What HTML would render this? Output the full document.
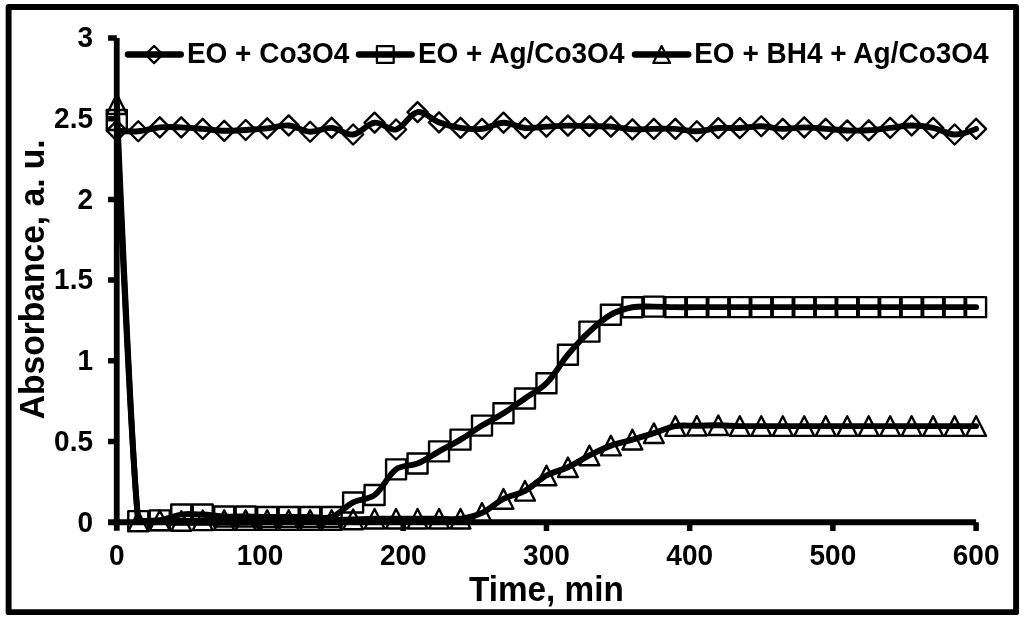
<!DOCTYPE html>
<html><head><meta charset="utf-8"><title>Absorbance vs Time</title>
<style>html,body{margin:0;padding:0;background:#fff}svg{display:block}</style></head>
<body>
<svg width="1024" height="621" viewBox="0 0 1024 621">
<rect x="0" y="0" width="1024" height="621" fill="#fff"/>
<rect x="8.6" y="6.95" width="1007.5" height="605.2" fill="none" stroke="#000" stroke-width="5.9" stroke-linejoin="round"/>
<g stroke="#000" fill="none">
<path d="M116.75 37.95V530.80" stroke-width="5.8"/>
<path d="M108.10 522.20H976.10" stroke-width="5.9"/>
<path d="M108.1 441.57H116.80M108.1 360.85H116.80M108.1 280.12H116.80M108.1 199.40H116.80M108.1 118.67H116.80M108.1 37.95H116.80M260.02 522.30V531M403.23 522.30V531M546.45 522.30V531M689.67 522.30V531M832.88 522.30V531M976.10 522.30V531" stroke-width="5.5"/>
</g>
<g id="series">
<path d="M116.80 130.62 C116.80 130.62 130.61 131.84 138.28 131.27 C146.08 130.68 151.97 128.10 159.76 127.39 C167.44 126.70 173.52 127.13 181.25 127.39 C188.99 127.66 195.00 128.24 202.73 128.85 C210.47 129.46 216.47 130.58 224.21 130.78 C231.93 130.99 237.97 130.41 245.69 129.98 C253.44 129.54 259.47 129.17 267.18 128.36 C274.94 127.55 281.05 124.86 288.66 125.46 C296.52 126.08 302.31 131.31 310.14 131.75 C317.78 132.18 324.00 127.39 331.62 127.88 C339.47 128.38 345.71 135.39 353.11 134.50 C361.17 133.53 366.53 123.65 374.59 122.71 C382.00 121.85 389.13 131.21 396.07 129.49 C404.60 127.38 409.25 113.43 417.56 112.06 C424.71 110.87 431.02 119.44 439.04 122.39 C446.49 125.13 452.67 126.70 460.52 127.88 C468.14 129.02 474.42 129.76 482.00 128.85 C489.88 127.90 495.72 122.86 503.49 122.71 C511.18 122.57 517.13 127.33 524.97 128.04 C532.59 128.73 538.71 127.02 546.45 126.59 C554.18 126.15 560.20 125.70 567.93 125.62 C575.66 125.53 581.68 125.93 589.41 126.10 C597.15 126.28 603.19 126.01 610.90 126.59 C618.66 127.17 624.62 128.92 632.38 129.33 C640.08 129.74 646.13 128.93 653.86 128.85 C661.60 128.76 667.64 128.41 675.34 128.85 C683.10 129.28 689.11 131.41 696.83 131.27 C704.58 131.12 710.53 128.62 718.31 128.04 C726.00 127.46 732.07 128.36 739.79 128.04 C747.54 127.72 753.56 126.12 761.28 126.26 C769.02 126.41 775.00 128.64 782.76 128.85 C790.47 129.05 796.51 127.39 804.24 127.39 C811.97 127.39 817.99 128.29 825.72 128.85 C833.46 129.40 839.46 130.20 847.21 130.46 C854.93 130.72 860.98 130.76 868.69 130.30 C876.45 129.83 882.44 128.75 890.17 127.88 C897.90 127.01 903.92 125.46 911.65 125.46 C919.39 125.46 925.55 126.28 933.14 127.88 C941.02 129.54 946.84 134.32 954.62 134.50 C962.31 134.67 976.10 128.85 976.10 128.85" fill="none" stroke="#000" stroke-width="5.9" stroke-linecap="round" stroke-linejoin="round"/>
<path d="M116.80 120.62l10 10l-10 10l-10 -10zM138.28 121.27l10 10l-10 10l-10 -10zM159.76 117.39l10 10l-10 10l-10 -10zM181.25 117.39l10 10l-10 10l-10 -10zM202.73 118.85l10 10l-10 10l-10 -10zM224.21 120.78l10 10l-10 10l-10 -10zM245.69 119.98l10 10l-10 10l-10 -10zM267.18 118.36l10 10l-10 10l-10 -10zM288.66 115.46l10 10l-10 10l-10 -10zM310.14 121.75l10 10l-10 10l-10 -10zM331.62 117.88l10 10l-10 10l-10 -10zM353.11 124.50l10 10l-10 10l-10 -10zM374.59 112.71l10 10l-10 10l-10 -10zM396.07 119.49l10 10l-10 10l-10 -10zM417.56 102.06l10 10l-10 10l-10 -10zM439.04 112.39l10 10l-10 10l-10 -10zM460.52 117.88l10 10l-10 10l-10 -10zM482.00 118.85l10 10l-10 10l-10 -10zM503.49 112.71l10 10l-10 10l-10 -10zM524.97 118.04l10 10l-10 10l-10 -10zM546.45 116.59l10 10l-10 10l-10 -10zM567.93 115.62l10 10l-10 10l-10 -10zM589.41 116.10l10 10l-10 10l-10 -10zM610.90 116.59l10 10l-10 10l-10 -10zM632.38 119.33l10 10l-10 10l-10 -10zM653.86 118.85l10 10l-10 10l-10 -10zM675.34 118.85l10 10l-10 10l-10 -10zM696.83 121.27l10 10l-10 10l-10 -10zM718.31 118.04l10 10l-10 10l-10 -10zM739.79 118.04l10 10l-10 10l-10 -10zM761.28 116.26l10 10l-10 10l-10 -10zM782.76 118.85l10 10l-10 10l-10 -10zM804.24 117.39l10 10l-10 10l-10 -10zM825.72 118.85l10 10l-10 10l-10 -10zM847.21 120.46l10 10l-10 10l-10 -10zM868.69 120.30l10 10l-10 10l-10 -10zM890.17 117.88l10 10l-10 10l-10 -10zM911.65 115.46l10 10l-10 10l-10 -10zM933.14 117.88l10 10l-10 10l-10 -10zM954.62 124.50l10 10l-10 10l-10 -10zM976.10 118.85l10 10l-10 10l-10 -10z" fill="none" stroke="#000" stroke-width="2.4" stroke-linejoin="round"/>

<path d="M116.80 119.97 C116.80 119.97 130.98 453.10 138.28 521.17 C138.28 521.17 152.17 521.53 159.76 520.36 C167.63 519.15 173.38 515.62 181.25 514.55 C188.84 513.52 195.01 514.20 202.73 514.55 C210.48 514.90 216.46 516.14 224.21 516.49 C231.93 516.84 237.96 516.40 245.69 516.49 C253.43 516.57 259.44 516.88 267.18 516.97 C274.91 517.06 280.93 516.97 288.66 516.97 C296.39 516.97 302.41 516.97 310.14 516.97 C317.88 516.97 324.62 519.34 331.62 516.97 C340.08 514.11 344.86 506.65 353.11 502.44 C360.33 498.75 368.33 499.83 374.59 495.01 C383.80 487.92 386.78 476.15 396.07 469.34 C402.25 464.82 410.22 466.59 417.56 463.53 C425.69 460.14 431.28 455.74 439.04 451.42 C446.75 447.14 452.97 444.18 460.52 439.64 C468.43 434.88 474.13 430.42 482.00 425.59 C489.59 420.94 495.96 418.07 503.49 413.32 C511.43 408.31 517.26 403.85 524.97 398.47 C532.73 393.04 539.89 389.97 546.45 383.29 C555.36 374.22 559.71 364.60 567.93 354.71 C575.18 346.00 581.13 339.34 589.41 331.63 C596.60 324.93 602.45 319.47 610.90 314.68 C617.92 310.69 624.43 308.74 632.38 307.25 C639.90 305.84 646.13 306.62 653.86 306.60 C661.60 306.59 667.61 307.07 675.34 307.17 C683.08 307.27 689.09 307.17 696.83 307.17 C704.56 307.17 710.58 307.17 718.31 307.17 C726.04 307.17 732.06 307.17 739.79 307.17 C747.53 307.17 753.54 307.17 761.28 307.17 C769.01 307.17 775.02 307.17 782.76 307.17 C790.49 307.17 796.51 307.17 804.24 307.17 C811.97 307.17 817.99 307.17 825.72 307.17 C833.46 307.17 839.47 307.17 847.21 307.17 C854.94 307.17 860.95 307.17 868.69 307.17 C876.42 307.17 882.44 307.17 890.17 307.17 C897.90 307.17 903.92 307.17 911.65 307.17 C919.39 307.17 925.40 307.17 933.14 307.17 C940.87 307.17 946.88 307.17 954.62 307.17 C962.35 307.17 976.10 307.17 976.10 307.17" fill="none" stroke="#000" stroke-width="5.9" stroke-linecap="round" stroke-linejoin="round"/>
<path d="M106.80 109.97h20v20h-20zM128.28 511.17h20v20h-20zM149.76 510.36h20v20h-20zM171.25 504.55h20v20h-20zM192.73 504.55h20v20h-20zM214.21 506.49h20v20h-20zM235.69 506.49h20v20h-20zM257.18 506.97h20v20h-20zM278.66 506.97h20v20h-20zM300.14 506.97h20v20h-20zM321.62 506.97h20v20h-20zM343.11 492.44h20v20h-20zM364.59 485.01h20v20h-20zM386.07 459.34h20v20h-20zM407.56 453.53h20v20h-20zM429.04 441.42h20v20h-20zM450.52 429.64h20v20h-20zM472.00 415.59h20v20h-20zM493.49 403.32h20v20h-20zM514.97 388.47h20v20h-20zM536.45 373.29h20v20h-20zM557.93 344.71h20v20h-20zM579.41 321.63h20v20h-20zM600.90 304.68h20v20h-20zM622.38 297.25h20v20h-20zM643.86 296.60h20v20h-20zM665.34 297.17h20v20h-20zM686.83 297.17h20v20h-20zM708.31 297.17h20v20h-20zM729.79 297.17h20v20h-20zM751.28 297.17h20v20h-20zM772.76 297.17h20v20h-20zM794.24 297.17h20v20h-20zM815.72 297.17h20v20h-20zM837.21 297.17h20v20h-20zM858.69 297.17h20v20h-20zM880.17 297.17h20v20h-20zM901.65 297.17h20v20h-20zM923.14 297.17h20v20h-20zM944.62 297.17h20v20h-20zM966.10 297.17h20v20h-20z" fill="none" stroke="#000" stroke-width="2.4" stroke-linejoin="round"/>

<path d="M116.80 104.14 C116.80 104.14 130.98 450.57 138.28 521.33 C138.28 521.33 152.03 520.42 159.76 520.36 C167.50 520.30 173.51 521.01 181.25 521.01 C188.98 521.01 194.99 520.54 202.73 520.36 C210.46 520.19 216.48 520.10 224.21 520.04 C231.95 519.98 237.96 520.04 245.69 520.04 C253.43 520.04 259.44 520.04 267.18 520.04 C274.91 520.04 280.93 520.04 288.66 520.04 C296.39 520.04 302.41 520.04 310.14 520.04 C317.88 520.04 323.89 520.16 331.62 520.04 C339.36 519.92 345.37 519.63 353.11 519.39 C360.84 519.16 366.85 518.86 374.59 518.75 C382.32 518.63 388.34 518.75 396.07 518.75 C403.81 518.75 409.82 518.75 417.56 518.75 C425.29 518.75 431.30 518.75 439.04 518.75 C446.77 518.75 452.92 519.78 460.52 518.75 C468.39 517.68 474.82 516.26 482.00 512.94 C490.29 509.11 495.32 503.09 503.49 498.89 C510.79 495.13 517.77 494.74 524.97 490.82 C533.24 486.31 538.19 480.01 546.45 475.48 C553.65 471.53 560.44 470.74 567.93 467.25 C575.91 463.53 581.54 459.42 589.41 455.46 C597.01 451.64 602.94 448.54 610.90 445.61 C618.41 442.85 624.67 441.87 632.38 439.64 C640.14 437.39 646.16 435.61 653.86 433.18 C661.63 430.73 667.41 427.45 675.34 426.08 C682.88 424.77 689.09 425.90 696.83 425.75 C704.56 425.61 710.58 425.21 718.31 425.27 C726.05 425.33 732.06 425.93 739.79 426.08 C747.52 426.22 753.54 426.08 761.28 426.08 C769.01 426.08 775.02 426.08 782.76 426.08 C790.49 426.08 796.51 426.08 804.24 426.08 C811.97 426.08 817.99 426.08 825.72 426.08 C833.46 426.08 839.47 426.08 847.21 426.08 C854.94 426.08 860.95 426.08 868.69 426.08 C876.42 426.08 882.44 426.08 890.17 426.08 C897.90 426.08 903.92 426.08 911.65 426.08 C919.39 426.08 925.40 426.08 933.14 426.08 C940.87 426.08 946.88 426.08 954.62 426.08 C962.35 426.08 976.10 426.08 976.10 426.08" fill="none" stroke="#000" stroke-width="5.9" stroke-linecap="round" stroke-linejoin="round"/>
<path d="M116.80 94.34l9.9 19.6h-19.8zM138.28 511.53l9.9 19.6h-19.8zM159.76 510.56l9.9 19.6h-19.8zM181.25 511.21l9.9 19.6h-19.8zM202.73 510.56l9.9 19.6h-19.8zM224.21 510.24l9.9 19.6h-19.8zM245.69 510.24l9.9 19.6h-19.8zM267.18 510.24l9.9 19.6h-19.8zM288.66 510.24l9.9 19.6h-19.8zM310.14 510.24l9.9 19.6h-19.8zM331.62 510.24l9.9 19.6h-19.8zM353.11 509.59l9.9 19.6h-19.8zM374.59 508.95l9.9 19.6h-19.8zM396.07 508.95l9.9 19.6h-19.8zM417.56 508.95l9.9 19.6h-19.8zM439.04 508.95l9.9 19.6h-19.8zM460.52 508.95l9.9 19.6h-19.8zM482.00 503.14l9.9 19.6h-19.8zM503.49 489.09l9.9 19.6h-19.8zM524.97 481.02l9.9 19.6h-19.8zM546.45 465.68l9.9 19.6h-19.8zM567.93 457.45l9.9 19.6h-19.8zM589.41 445.66l9.9 19.6h-19.8zM610.90 435.81l9.9 19.6h-19.8zM632.38 429.84l9.9 19.6h-19.8zM653.86 423.38l9.9 19.6h-19.8zM675.34 416.28l9.9 19.6h-19.8zM696.83 415.95l9.9 19.6h-19.8zM718.31 415.47l9.9 19.6h-19.8zM739.79 416.28l9.9 19.6h-19.8zM761.28 416.28l9.9 19.6h-19.8zM782.76 416.28l9.9 19.6h-19.8zM804.24 416.28l9.9 19.6h-19.8zM825.72 416.28l9.9 19.6h-19.8zM847.21 416.28l9.9 19.6h-19.8zM868.69 416.28l9.9 19.6h-19.8zM890.17 416.28l9.9 19.6h-19.8zM911.65 416.28l9.9 19.6h-19.8zM933.14 416.28l9.9 19.6h-19.8zM954.62 416.28l9.9 19.6h-19.8zM976.10 416.28l9.9 19.6h-19.8z" fill="none" stroke="#000" stroke-width="2.4" stroke-linejoin="round"/>

</g>
<g font-family="'Liberation Sans', Arial, sans-serif" font-weight="bold" fill="#000">
<g font-size="28" text-anchor="end">
<text transform="translate(93 531.50) scale(1 1.065)">0</text>
<text transform="translate(93 450.77) scale(1 1.065)">0.5</text>
<text transform="translate(93 370.05) scale(1 1.065)">1</text>
<text transform="translate(93 289.32) scale(1 1.065)">1.5</text>
<text transform="translate(93 208.60) scale(1 1.065)">2</text>
<text transform="translate(93 127.87) scale(1 1.065)">2.5</text>
<text transform="translate(93 47.15) scale(1 1.065)">3</text>
</g>
<g font-size="28" text-anchor="middle">
<text transform="translate(116.80 564.7) scale(1 1.065)">0</text>
<text transform="translate(260.02 564.7) scale(1 1.065)">100</text>
<text transform="translate(403.23 564.7) scale(1 1.065)">200</text>
<text transform="translate(546.45 564.7) scale(1 1.065)">300</text>
<text transform="translate(689.67 564.7) scale(1 1.065)">400</text>
<text transform="translate(832.88 564.7) scale(1 1.065)">500</text>
<text transform="translate(976.10 564.7) scale(1 1.065)">600</text>
</g>
<text transform="translate(546.4 600.9) scale(1 1.03)" font-size="33.3" text-anchor="middle">Time, min</text>
<text transform="translate(43.9 279.3) rotate(-90) scale(1 1.03)" font-size="33.6" text-anchor="middle">Absorbance, a. u.</text>
<g font-size="28">
<text transform="translate(186.9 63.35) scale(1 1.065)">EO + Co3O4</text>
<text transform="translate(417.9 63.35) scale(1 1.065)">EO + Ag/Co3O4</text>
<text transform="translate(694.2 63.35) scale(1 1.065)">EO + BH4 + Ag/Co3O4</text>
</g>
</g>
<g stroke="#000" fill="none" stroke-linecap="round">
<path d="M127.9 54.5H180.8M358.9 54.5H411.7M634.9 54.5H688.3" stroke-width="6.3"/>
<path d="M154.1 45.9l8.6 8.6l-8.6 8.6l-8.6 -8.6zM376.9 46.1h16.8v16.8h-16.8zM661.65 46.1l8.4 16.8h-16.8z" stroke-width="2.2" stroke-linejoin="round"/>
</g>
</svg>
</body></html>
